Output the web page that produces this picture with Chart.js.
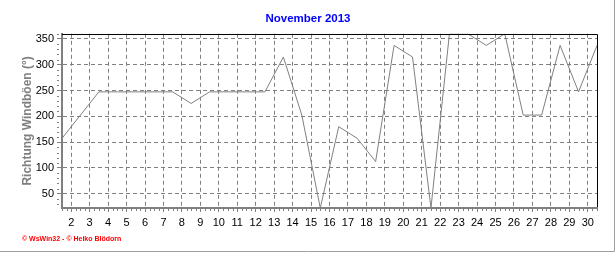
<!DOCTYPE html>
<html>
<head>
<meta charset="utf-8">
<title>Richtung Windböen - November 2013</title>
<script src="https://cdn.jsdelivr.net/npm/chart.js@4/dist/chart.umd.min.js"></script>
<style>
    html, body { margin: 0; padding: 0; background: #ffffff; }
    #wrap { width: 616px; height: 253px; }
</style>
</head>
<body>
<div id="wrap"><canvas id="windChart" width="616" height="253"></canvas></div>
<script>
// ============================================
// Richtung Windböen - November 2013 (WsWin32)
// ============================================

const chartTitle = "November 2013";
const axisTitle = "Richtung Windböen (°)";
const footerText = "© WsWin32 - © Heiko Blödorn";

// one reading per day, drawn at the middle of the day
const days = [1, 2, 3, 4, 5, 6, 7, 8, 9, 10, 11, 12, 13, 14, 15,
    16, 17, 18, 19, 20, 21, 22, 23, 24, 25, 26, 27, 28, 29, 30];
const gustDirection = [157.5, 202.5, 247.5, 247.5, 247.5, 247.5, 247.5, 225, 247.5, 247.5,
    247.5, 247.5, 315, 202.5, 22.5, 180, 157.5, 112.5, 337.5, 315,
    22.5, 360, 360, 337.5, 360, 202.5, 202.5, 337.5, 247.5, 337.5];

// day labels sit on the day boundaries
const dayTickLabels = ["2", "3", "4", "5", "6", "7", "8", "9", "10", "11", "12", "13", "14", "15",
    "16", "17", "18", "19", "20", "21", "22", "23", "24", "25", "26", "27", "28", "29", "30"];
const directionTicks = [50, 100, 150, 200, 250, 300, 350];
const directionMin = 22.5;
const directionMax = 360;

const GREY = "#808080";
const FONT = "'Liberation Sans', Arial, sans-serif";

// small ticks, top/right frame, outer panel edge and footer
const decorPlugin = {
    id: "decor",
    afterDraw(chart) {
        const { ctx, chartArea, scales } = chart;
        const xs = scales.x;
        const ys = scales.y;
        ctx.save();

        ctx.strokeStyle = GREY;
        ctx.lineWidth = 1;
        ctx.beginPath();
        for (let v = days[0]; v <= days[days.length - 1]; v += 0.25) {
            if (Math.abs((v % 1) - 0.5) < 0.01) continue;
            const px = Math.round(xs.getPixelForValue(v)) + 0.5;
            ctx.moveTo(px, chartArea.bottom + 1);
            ctx.lineTo(px, chartArea.bottom + 3);
        }
        for (let v = 30; v <= directionMax; v += 10) {
            if (v % 50 === 0) continue;
            const py = Math.round(ys.getPixelForValue(v)) + 0.5;
            ctx.moveTo(chartArea.left - 3, py);
            ctx.lineTo(chartArea.left - 5, py);
        }
        ctx.stroke();

        ctx.strokeStyle = "#000000";
        ctx.beginPath();
        ctx.moveTo(chartArea.left, Math.round(chartArea.top) + 0.5);
        ctx.lineTo(chartArea.right + 0.5, Math.round(chartArea.top) + 0.5);
        ctx.lineTo(chartArea.right + 0.5, chartArea.bottom - 1);
        ctx.stroke();

        ctx.strokeStyle = "#a0a0a0";
        ctx.beginPath();
        ctx.moveTo(0, chart.height - 1.5);
        ctx.lineTo(chart.width - 1.5, chart.height - 1.5);
        ctx.lineTo(chart.width - 1.5, 0);
        ctx.stroke();

        ctx.fillStyle = "#ff0000";
        ctx.font = "bold 7px " + FONT;
        ctx.textBaseline = "middle";
        ctx.textAlign = "left";
        ctx.fillText(footerText, 22, 239);
        ctx.restore();
    }
};

function initialiseWindChart() {
    const canvas = document.getElementById("windChart");
    if (!canvas || typeof Chart === "undefined") return;

    new Chart(canvas, {
        type: "line",
        data: {
            datasets: [{
                data: days.map((d, i) => ({ x: d, y: gustDirection[i] })),
                borderColor: GREY,
                borderWidth: 1,
                pointRadius: 0,
                tension: 0,
                fill: false
            }]
        },
        options: {
            responsive: false,
            animation: false,
            devicePixelRatio: 1,
            layout: { padding: 0 },
            plugins: {
                legend: { display: false },
                tooltip: { enabled: false },
                title: {
                    display: true,
                    text: chartTitle,
                    color: "#0000ff",
                    font: { family: FONT, size: 11.5, weight: "bold" },
                    padding: { top: 12, bottom: 8 }
                }
            },
            scales: {
                x: {
                    type: "linear",
                    min: days[0],
                    max: days[days.length - 1],
                    afterBuildTicks: (scale) => {
                        scale.ticks = dayTickLabels.map((label) => ({ value: Number(label) - 0.5 }));
                    },
                    afterFit: (scale) => { scale.height = 45; },
                    ticks: {
                        autoSkip: false,
                        maxRotation: 0,
                        padding: 4,
                        color: "#000000",
                        font: { family: FONT, size: 11 },
                        callback: (value, index) => dayTickLabels[index]
                    },
                    grid: {
                        color: GREY,
                        lineWidth: 1,
                        tickLength: 4,
                        tickColor: GREY,
                        tickBorderDash: []
                    },
                    border: { color: GREY, width: 2, dash: [4, 3] }
                },
                y: {
                    type: "linear",
                    min: directionMin,
                    max: directionMax,
                    afterBuildTicks: (scale) => {
                        scale.ticks = directionTicks.map((v) => ({ value: v }));
                    },
                    afterFit: (scale) => { scale.width = 62; },
                    ticks: {
                        padding: 3,
                        color: "#000000",
                        font: { family: FONT, size: 11 }
                    },
                    grid: {
                        color: GREY,
                        lineWidth: 1,
                        tickLength: 5,
                        tickColor: GREY,
                        tickBorderDash: []
                    },
                    border: { color: GREY, width: 2, dash: [4, 3] },
                    title: {
                        display: true,
                        text: axisTitle,
                        color: GREY,
                        font: { family: FONT, size: 12, weight: "bold" },
                        padding: { top: 20, bottom: 0 }
                    }
                },
                // empty right margin so the title stays centred on the whole panel
                yRight: {
                    type: "linear",
                    position: "right",
                    min: directionMin,
                    max: directionMax,
                    afterFit: (scale) => { scale.width = 19; },
                    ticks: { display: false },
                    grid: { display: false, drawTicks: false },
                    border: { display: false }
                }
            }
        },
        plugins: [decorPlugin]
    });
}

initialiseWindChart();
</script>
</body>
</html>
